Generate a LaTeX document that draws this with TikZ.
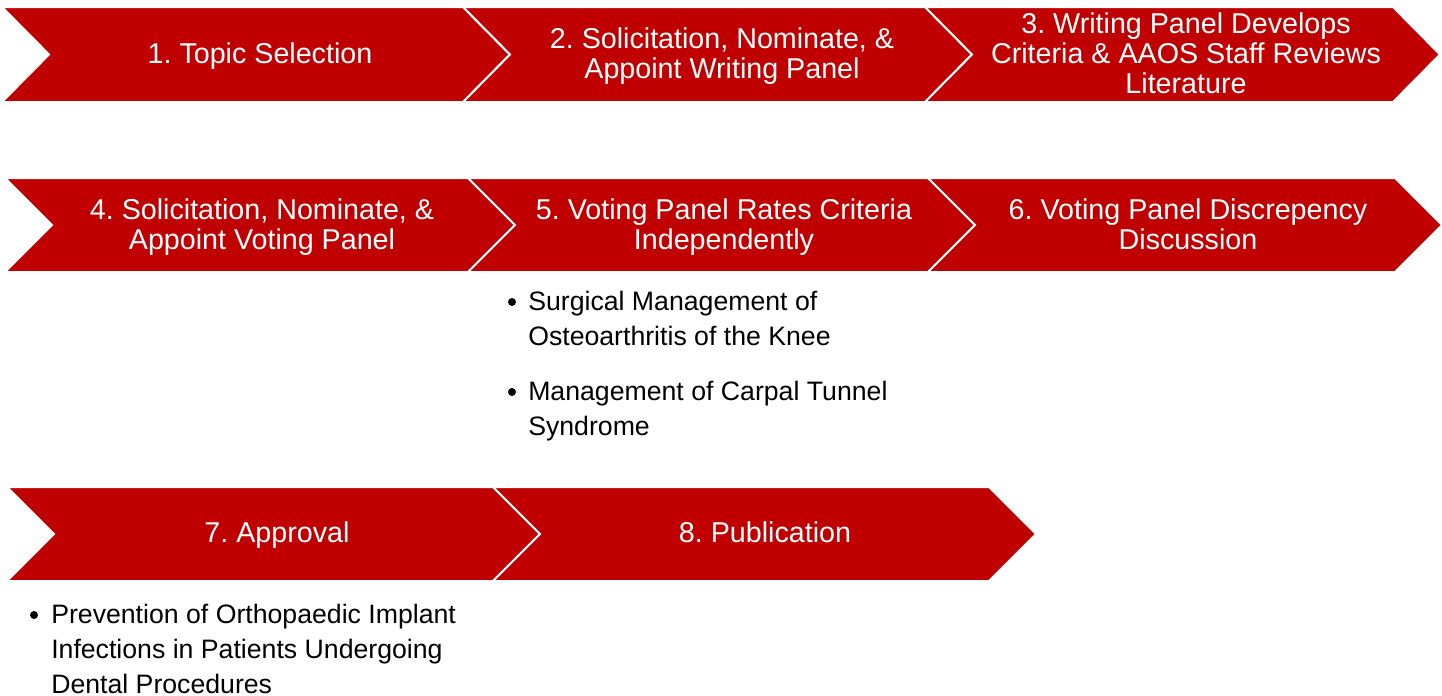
\documentclass[tikz,border=0pt]{standalone}
\usepackage{fontspec}
\setmainfont{Liberation Sans}
\usepackage{xcolor}
\usepackage{tikz}
\definecolor{chevred}{HTML}{C00000}
\frenchspacing

\begin{document}
\begin{tikzpicture}[x=0.75pt,y=0.75pt,yscale=-1,xscale=1,
  chev/.style={fill=chevred,draw=white,line width=1.5pt,line join=miter},
  chevtext/.style={text=white,align=center,inner sep=0pt,anchor=base,font=\fontsize{21.5}{22.5}\selectfont},
  itemtext/.style={align=left,inner sep=0pt,anchor=base west,font=\fontsize{20}{26.25}\selectfont}]
\useasboundingbox (0,0) rectangle (1442,696);
% first row
\draw [chev] (2,7) -- (463,7) -- (510,54.5) -- (463,102) -- (2,102) -- (49,54.5) -- cycle ;
\draw [chev] (463,7) -- (925,7) -- (972,54.5) -- (925,102) -- (463,102) -- (510,54.5) -- cycle ;
\draw [chev] (925,7) -- (1393,7) -- (1440,54.5) -- (1393,102) -- (925,102) -- (972,54.5) -- cycle ;
% second row
\draw [chev] (5,178) -- (468,178) -- (515,225) -- (468,272) -- (5,272) -- (52,225) -- cycle ;
\draw [chev] (468,178) -- (928,178) -- (975,225) -- (928,272) -- (468,272) -- (515,225) -- cycle ;
\draw [chev] (928,178) -- (1395,178) -- (1442,225) -- (1395,272) -- (928,272) -- (975,225) -- cycle ;
% third row
\draw [chev] (7,487) -- (493,487) -- (540,534) -- (493,581) -- (7,581) -- (54,534) -- cycle ;
\draw [chev] (493,487) -- (989,487) -- (1036,534) -- (989,581) -- (493,581) -- (540,534) -- cycle ;

% base anchor sits on the last line
\node [chevtext] (topic) at (260,63.5) {1. Topic Selection};
\node [chevtext] (writing) at (722,78.5) {2. Solicitation, Nominate, \&\\Appoint Writing Panel};
\node [chevtext] (criteria) at (1186,93.5) {3. Writing Panel Develops\\Criteria \& AAOS Staff Reviews\\Literature};
\node [chevtext] (voting) at (262,249.5) {4. Solicitation, Nominate, \&\\Appoint Voting Panel};
\node [chevtext] (rates) at (724,249.5) {5. Voting Panel Rates Criteria\\Independently};
\node [chevtext] (discrep) at (1188,249.5) {6. Voting Panel Discrepency\\Discussion};
\node [chevtext] (approval) at (277,542.5) {7. Approval};
\node [chevtext] (publication) at (765,542.5) {8. Publication};

% bullet lists
\fill (512,302) circle (4);
\node [itemtext] (knee) at (528,345) {Surgical Management of\\Osteoarthritis of the Knee};
\fill (512,392) circle (4);
\node [itemtext] (carpal) at (528,435) {Management of Carpal Tunnel\\Syndrome};
\fill (34,615) circle (4);
\node [itemtext] (implant) at (51,693) {Prevention of Orthopaedic Implant\\Infections in Patients Undergoing\\Dental Procedures};
\end{tikzpicture}
\end{document}
